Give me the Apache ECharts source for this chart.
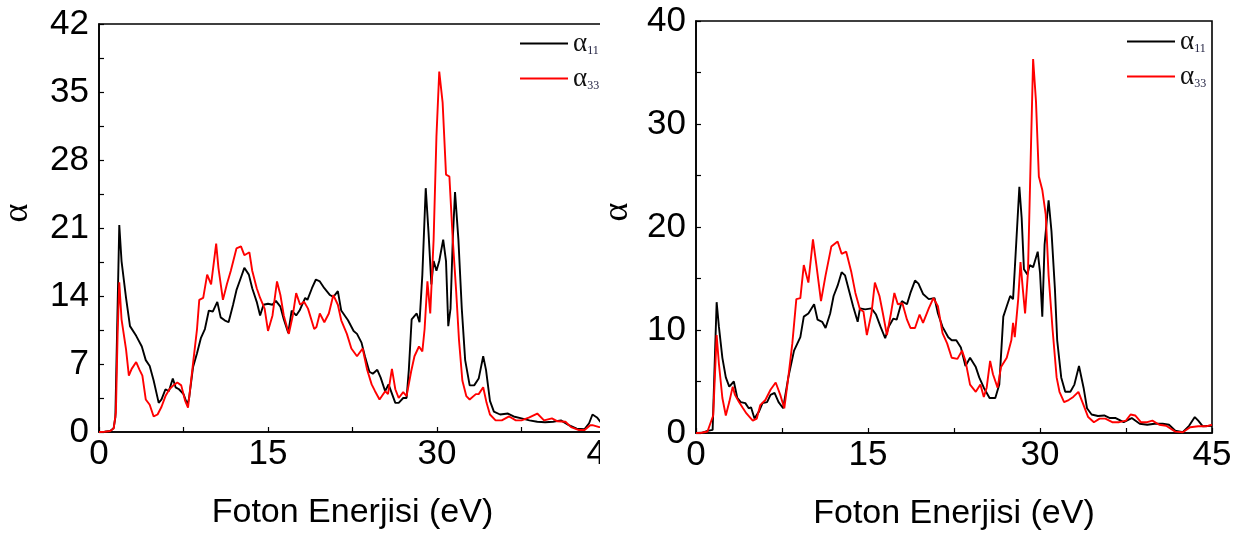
<!DOCTYPE html>
<html>
<head>
<meta charset="utf-8">
<script src="https://cdn.jsdelivr.net/npm/echarts@6/dist/echarts.min.js"></script>
<style>
  html, body { margin: 0; padding: 0; background: #fff; }
  #wrapL { position: absolute; left: 0; top: 0; width: 600px; height: 537px; overflow: hidden; }
  #chartL { position: absolute; left: 0; top: 0; width: 640px; height: 537px; }
  #chartR { position: absolute; left: 600px; top: 0; width: 638px; height: 537px; }
</style>
</head>
<body>
<div id="wrapL"><div id="chartL"></div></div>
<div id="chartR"></div>
<script>
// ---------- data (energy eV, alpha) ----------
const xTitle = 'Foton Enerjisi (eV)';
const yTitle = 'α';
const seriesNames = ['α11', 'α33'];

const leftA11 = [[0,0],[0.5,0.02],[1.0,0.1],[1.3,0.4],[1.45,1.5],[1.6,10],[1.8,21.3],[2.0,17.6],[2.4,13.8],[2.75,10.9],[3.3,9.9],[3.45,9.7],[3.8,8.8],[4.15,7.4],[4.5,6.8],[4.85,5.3],[5.3,3.0],[5.55,3.35],[5.9,4.4],[6.2,4.2],[6.55,5.5],[6.8,4.6],[7.1,4.4],[7.5,3.9],[7.85,2.8],[8.0,3.5],[8.35,6.7],[8.7,8.1],[9.05,9.7],[9.4,10.6],[9.75,12.5],[10.1,12.4],[10.5,13.4],[10.8,11.8],[11.15,11.5],[11.5,11.3],[11.9,13.1],[12.2,14.6],[12.6,15.9],[12.9,16.9],[13.3,16.2],[13.6,14.8],[14.0,13.4],[14.3,12.0],[14.6,13.1],[15.0,13.2],[15.4,13.1],[15.7,13.5],[16.1,12.9],[16.4,11.6],[16.8,10.2],[17.1,12.5],[17.5,12.0],[17.8,12.5],[18.3,13.8],[18.5,13.6],[18.9,14.8],[19.25,15.7],[19.6,15.5],[20.0,14.8],[20.5,14.1],[20.8,13.9],[21.2,14.5],[21.5,12.5],[22.1,11.5],[22.6,10.4],[22.9,10.1],[23.3,9.2],[23.6,7.8],[24.0,6.2],[24.3,6.0],[24.7,6.4],[25.0,5.6],[25.4,4.2],[25.7,4.9],[26.3,3.0],[26.6,3.0],[27.0,3.5],[27.3,3.5],[27.5,6.4],[27.75,11.6],[28.2,12.2],[28.45,11.3],[28.7,16.2],[29.0,25.1],[29.25,20.5],[29.5,15.2],[29.7,17.6],[29.95,16.6],[30.2,17.6],[30.55,19.8],[30.8,17.6],[31.0,10.9],[31.2,12.7],[31.4,19.8],[31.6,24.7],[31.9,19.8],[32.2,12.7],[32.5,7.4],[32.9,4.8],[33.3,4.8],[33.7,5.5],[34.1,7.8],[34.35,6.4],[34.7,3.2],[35.05,2.1],[35.6,1.8],[36.3,1.9],[36.8,1.6],[37.5,1.4],[38.2,1.2],[38.9,1.05],[39.6,1.0],[40.3,1.05],[41.0,1.2],[41.7,0.7],[42.4,0.35],[43.1,0.3],[43.5,0.9],[43.8,1.8],[44.2,1.5],[44.6,0.9],[45,0.8]];

const leftA33 = [[0,0],[0.5,0.02],[1.0,0.1],[1.3,0.35],[1.5,2],[1.65,10],[1.8,15.4],[2.0,11.6],[2.4,8.5],[2.65,5.8],[2.9,6.5],[3.3,7.2],[3.6,6.4],[3.85,5.8],[4.15,3.35],[4.5,2.8],[4.85,1.6],[5.2,1.8],[5.55,2.6],[5.9,3.7],[6.25,4.4],[6.6,4.8],[6.95,5.1],[7.3,4.8],[7.65,3.2],[7.9,2.5],[8.35,7.1],[8.7,10.6],[8.9,13.6],[9.25,13.8],[9.6,16.2],[9.95,15.2],[10.4,19.4],[10.6,16.9],[11.0,13.6],[11.35,15.2],[11.7,16.6],[12.2,18.9],[12.6,19.1],[12.9,18.2],[13.35,18.5],[13.6,16.6],[14.0,14.8],[14.3,13.8],[14.7,12.7],[15.0,10.4],[15.4,12.0],[15.8,15.5],[16.1,14.1],[16.4,12.0],[16.85,10.1],[17.2,12.0],[17.5,14.3],[17.85,13.1],[18.2,13.4],[18.55,12.7],[19.1,10.6],[19.3,10.8],[19.6,12.2],[20.0,11.3],[20.4,12.2],[20.8,14.1],[21.2,13.1],[21.5,11.5],[22.0,10.1],[22.4,8.6],[22.9,7.8],[23.4,8.6],[23.8,6.4],[24.2,4.9],[24.5,4.2],[24.9,3.35],[25.4,4.2],[25.65,3.9],[26.0,6.5],[26.3,4.4],[26.6,3.5],[27.0,4.1],[27.3,3.7],[27.7,6.2],[28.0,7.8],[28.4,8.8],[28.7,8.3],[28.9,10.6],[29.15,15.5],[29.4,12.2],[29.7,19.8],[29.95,30.4],[30.2,37.1],[30.5,33.9],[30.8,26.5],[31.1,26.3],[31.4,19.8],[31.7,14.5],[31.95,9.5],[32.25,5.3],[32.6,3.7],[32.9,3.35],[33.45,3.9],[33.7,3.9],[34.1,4.6],[34.4,3.0],[34.7,1.8],[35.2,1.2],[35.75,1.2],[36.4,1.6],[37.0,1.2],[37.5,1.2],[38.2,1.5],[38.9,1.9],[39.5,1.2],[40.2,1.4],[40.7,1.1],[41.4,1.05],[41.9,0.5],[42.6,0.2],[43.1,0.2],[43.6,0.7],[43.8,0.7],[44.4,0.5],[45,0.5]];

const rightA11 = [[0,0],[0.5,0.02],[1.0,0.2],[1.45,0.3],[1.6,5.7],[1.8,12.7],[2.0,10.3],[2.3,7.3],[2.6,5.4],[2.9,4.5],[3.3,5.0],[3.6,3.4],[3.9,3.0],[4.3,2.9],[4.6,2.4],[4.8,2.5],[5.1,1.4],[5.5,2.1],[5.8,2.9],[6.2,3.0],[6.5,3.7],[6.85,3.9],[7.2,3.0],[7.6,2.4],[8.05,5.4],[8.55,8.0],[9.1,9.3],[9.4,11.3],[9.8,11.6],[10.3,12.5],[10.6,11.0],[11.0,10.8],[11.3,10.2],[11.7,11.6],[12.0,13.3],[12.35,14.3],[12.7,15.6],[13.0,15.3],[13.4,13.6],[13.7,12.3],[14.1,10.8],[14.3,12.1],[14.75,12.0],[15.3,12.1],[15.7,11.5],[16.1,10.3],[16.5,9.2],[16.8,10.3],[17.2,11.1],[17.5,11.0],[17.95,12.8],[18.4,12.5],[18.7,13.6],[19.1,14.8],[19.4,14.5],[19.8,13.5],[20.3,13.0],[20.8,13.1],[21.1,11.6],[21.5,10.3],[22.0,9.3],[22.3,9.0],[22.7,9.0],[23.1,8.3],[23.5,6.5],[23.9,7.3],[24.4,6.4],[24.7,5.4],[25.1,4.4],[25.6,3.4],[26.1,3.4],[26.45,4.7],[26.8,11.3],[27.1,12.3],[27.4,13.3],[27.65,13.0],[27.8,15.9],[28.2,23.9],[28.4,20.9],[28.6,15.9],[28.9,15.4],[29.1,16.3],[29.4,16.1],[29.8,17.6],[30.0,15.6],[30.2,11.3],[30.4,18.3],[30.75,22.6],[31.0,19.6],[31.3,14.0],[31.5,9.0],[31.85,5.4],[32.2,4.0],[32.65,4.0],[33.0,4.7],[33.4,6.5],[33.8,4.4],[34.1,2.4],[34.5,1.8],[35.05,1.65],[35.6,1.7],[36.1,1.45],[36.6,1.45],[37.3,1.05],[38.0,1.45],[38.7,0.9],[39.35,0.8],[40.0,0.9],[40.7,0.9],[41.25,0.8],[41.8,0.23],[42.45,0.07],[43.0,0.7],[43.5,1.55],[43.8,1.2],[44.2,0.65],[45,0.7]];

const rightA33 = [[0,0],[0.5,0.02],[1.0,0.15],[1.5,1.7],[1.8,9.5],[2.0,6.7],[2.3,3.4],[2.6,1.7],[2.9,3.0],[3.2,4.5],[3.4,3.7],[3.75,3.0],[4.1,2.4],[4.4,1.9],[4.95,1.2],[5.3,1.4],[5.6,2.7],[6.05,3.2],[6.5,4.2],[6.95,4.9],[7.35,3.7],[7.7,2.4],[8.05,5.4],[8.4,8.7],[8.75,13.0],[9.1,13.1],[9.4,16.3],[9.8,14.6],[10.2,18.8],[10.5,16.3],[10.9,12.8],[11.3,15.3],[11.8,18.1],[12.35,18.6],[12.7,17.4],[13.1,17.6],[13.55,15.6],[13.9,13.6],[14.3,12.0],[14.6,11.8],[14.9,9.5],[15.3,11.6],[15.6,14.6],[16.0,13.3],[16.3,11.6],[16.65,9.5],[17.0,11.6],[17.3,13.6],[17.6,12.5],[18.0,12.6],[18.4,11.0],[18.7,10.2],[19.1,10.2],[19.5,11.5],[19.8,10.7],[20.3,12.1],[20.7,13.1],[21.1,12.3],[21.5,9.7],[21.9,8.7],[22.3,7.3],[22.8,7.2],[23.2,8.0],[23.5,7.0],[23.9,4.7],[24.4,4.0],[24.8,4.7],[25.1,3.5],[25.35,4.4],[25.65,7.0],[25.9,5.7],[26.3,4.4],[26.6,6.4],[27.1,7.3],[27.5,9.0],[27.65,10.7],[27.8,9.3],[28.1,13.0],[28.3,16.6],[28.5,14.0],[28.7,11.6],[28.95,15.6],[29.2,27.2],[29.4,36.3],[29.65,32.2],[29.9,24.9],[30.2,23.6],[30.5,21.2],[30.75,15.3],[31.1,10.0],[31.45,5.4],[31.7,4.0],[32.1,3.0],[32.5,3.2],[32.9,3.5],[33.35,4.0],[33.8,2.7],[34.2,1.55],[34.7,1.05],[35.2,1.4],[35.7,1.4],[36.3,1.05],[36.9,1.05],[37.5,1.2],[37.9,1.8],[38.3,1.7],[38.8,1.05],[39.35,1.05],[39.8,1.2],[40.4,0.8],[41.0,0.7],[41.8,0.13],[42.45,0.07],[43.1,0.56],[43.8,0.65],[44.5,0.65],[45,0.8]];

const xTicks = { min: 0, max: 45, interval: 15 };
const leftYTicks = { min: 0, max: 42, interval: 7 };
const rightYTicks = { min: 0, max: 40, interval: 10 };

// ---------- styling ----------
const SANS = '"Liberation Sans", Arial, sans-serif';
const SERIF = '"Liberation Serif", "Times New Roman", serif';

function makeOption(d) {
  return {
    animation: false,
    backgroundColor: '#fff',
    grid: { left: d.grid.left, top: d.grid.top, right: d.grid.right, bottom: d.grid.bottom,
            containLabel: false, outerBoundsMode: 'none',
            show: true, borderColor: '#000', borderWidth: 1.6, backgroundColor: 'transparent' },
    legend: {
      orient: 'vertical', left: d.legend.left, top: d.legend.top, padding: 0,
      icon: 'rect', itemWidth: 48, itemHeight: 2, itemGap: 8, itemTextGap: 4,
      data: seriesNames,
      formatter: function (n) { return '{a|α}{s|' + n.slice(1) + '}'; },
      textStyle: {
        rich: {
          a: { fontFamily: SERIF, fontSize: 27, color: '#111', verticalAlign: 'middle', lineHeight: 27 },
          s: { fontFamily: SERIF, fontSize: 12, color: '#202040', verticalAlign: 'bottom', lineHeight: 3 }
        }
      }
    },
    xAxis: {
      type: 'value', min: xTicks.min, max: xTicks.max, interval: xTicks.interval,
      name: xTitle, nameLocation: 'middle', nameGap: d.xNameGap,
      nameTextStyle: { fontFamily: SANS, fontSize: 34, color: '#000' },
      axisLine: { show: true, lineStyle: { color: '#000', width: 1.6 } },
      axisTick: { show: true, inside: true, length: 5, lineStyle: { color: '#000', width: 1.2 } },
      minorTick: { show: true, splitNumber: 2, length: 5, lineStyle: { color: '#000', width: 1.2 } },
      axisLabel: { fontFamily: SANS, fontSize: 35, color: '#000', margin: 5 },
      splitLine: { show: false }
    },
    yAxis: {
      type: 'value', min: d.y.min, max: d.y.max, interval: d.y.interval,
      name: yTitle, nameLocation: 'middle', nameGap: d.yNameGap, nameRotate: 90,
      nameTextStyle: { fontFamily: SERIF, fontSize: 36, color: '#000', padding: [0, 0, 0, 30] },
      axisLine: { show: true, lineStyle: { color: '#000', width: 1.6 } },
      axisTick: { show: true, inside: true, length: 5, lineStyle: { color: '#000', width: 1.2 } },
      minorTick: { show: true, splitNumber: 2, length: 5, lineStyle: { color: '#000', width: 1.2 } },
      axisLabel: { fontFamily: SANS, fontSize: 35, color: '#000', margin: 10 },
      splitLine: { show: false }
    },
    series: [
      { name: seriesNames[0], type: 'line', data: d.s11, showSymbol: false, symbol: 'none',
        lineStyle: { color: '#000', width: 1.9 }, itemStyle: { color: '#000' } },
      { name: seriesNames[1], type: 'line', data: d.s33, showSymbol: false, symbol: 'none',
        lineStyle: { color: '#ff0000', width: 1.9 }, itemStyle: { color: '#ff0000' } }
    ]
  };
}

const cL = echarts.init(document.getElementById('chartL'), null, { renderer: 'canvas' });
cL.setOption(makeOption({
  grid: { left: 99, top: 24, right: 34, bottom: 105 },
  legend: { left: 520, top: 30 },
  y: leftYTicks, s11: leftA11, s33: leftA33,
  xNameGap: 64, yNameGap: 63
}));

const cR = echarts.init(document.getElementById('chartR'), null, { renderer: 'canvas' });
cR.setOption(makeOption({
  grid: { left: 96, top: 21, right: 26, bottom: 104 },
  legend: { left: 527, top: 28 },
  y: rightYTicks, s11: rightA11, s33: rightA33,
  xNameGap: 64, yNameGap: 60
}));
</script>
</body>
</html>
